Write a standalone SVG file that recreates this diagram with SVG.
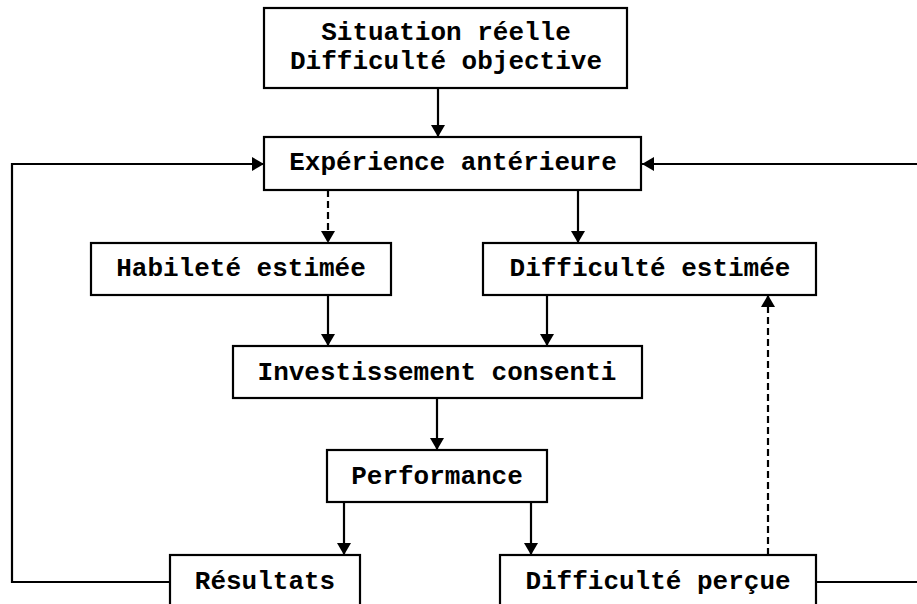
<svg xmlns="http://www.w3.org/2000/svg" width="917" height="604" viewBox="0 0 917 604">
<style>
.box{fill:#fff;stroke:#000;stroke-width:2.2}
.t{font-family:"Liberation Mono","Courier New",monospace;font-weight:bold;font-size:26px;fill:#000;text-anchor:middle}
.c{fill:none;stroke:#000;stroke-width:2.2}
.d{fill:none;stroke:#000;stroke-width:2.2;stroke-dasharray:7 4}
</style>
<defs>
<marker id="ah" viewBox="0 0 12 14" refX="12" refY="7" markerWidth="12" markerHeight="14" markerUnits="userSpaceOnUse" orient="auto">
<path d="M0,0 L12,7 L0,14 Z" fill="#000"/>
</marker>
</defs>
<rect width="917" height="604" fill="#fff"/>
<g id="connectors">
<line class="c" x1="438" y1="88" x2="438" y2="137" marker-end="url(#ah)"/>
<polyline class="c" points="170,582 12,582 12,164 264,164" marker-end="url(#ah)"/>
<polyline class="c" points="917,164 642,164" marker-end="url(#ah)"/>
<line class="d" x1="328" y1="190" x2="328" y2="243" marker-end="url(#ah)"/>
<line class="c" x1="578" y1="190" x2="578" y2="243" marker-end="url(#ah)"/>
<line class="c" x1="328" y1="295" x2="328" y2="346" marker-end="url(#ah)"/>
<line class="c" x1="547" y1="295" x2="547" y2="346" marker-end="url(#ah)"/>
<line class="c" x1="437" y1="398" x2="437" y2="450" marker-end="url(#ah)"/>
<line class="c" x1="344" y1="502" x2="344" y2="555" marker-end="url(#ah)"/>
<line class="c" x1="531" y1="502" x2="531" y2="555" marker-end="url(#ah)"/>
<line class="d" x1="768" y1="555" x2="768" y2="295" marker-end="url(#ah)"/>
<line class="c" x1="816" y1="582" x2="917" y2="582"/>
</g>
<g id="situation">
<rect class="box" x="264" y="8" width="363" height="80"/>
<text class="t" x="446" y="40">Situation réelle</text>
<text class="t" x="446" y="69">Difficulté objective</text>
</g>
<g id="experience">
<rect class="box" x="264" y="137" width="377" height="53"/>
<text class="t" x="453" y="170">Expérience antérieure</text>
</g>
<g id="habilete">
<rect class="box" x="91" y="243" width="300" height="52"/>
<text class="t" x="241" y="276">Habileté estimée</text>
</g>
<g id="difficulte-estimee">
<rect class="box" x="483" y="243" width="333" height="52"/>
<text class="t" x="650" y="276">Difficulté estimée</text>
</g>
<g id="investissement">
<rect class="box" x="233" y="346" width="409" height="52"/>
<text class="t" x="437" y="380">Investissement consenti</text>
</g>
<g id="performance">
<rect class="box" x="327" y="450" width="220" height="52"/>
<text class="t" x="437" y="484">Performance</text>
</g>
<g id="resultats">
<rect class="box" x="170" y="555" width="190" height="60"/>
<text class="t" x="265" y="589">Résultats</text>
</g>
<g id="difficulte-percue">
<rect class="box" x="500" y="555" width="316" height="60"/>
<text class="t" x="658" y="589">Difficulté perçue</text>
</g>
</svg>
